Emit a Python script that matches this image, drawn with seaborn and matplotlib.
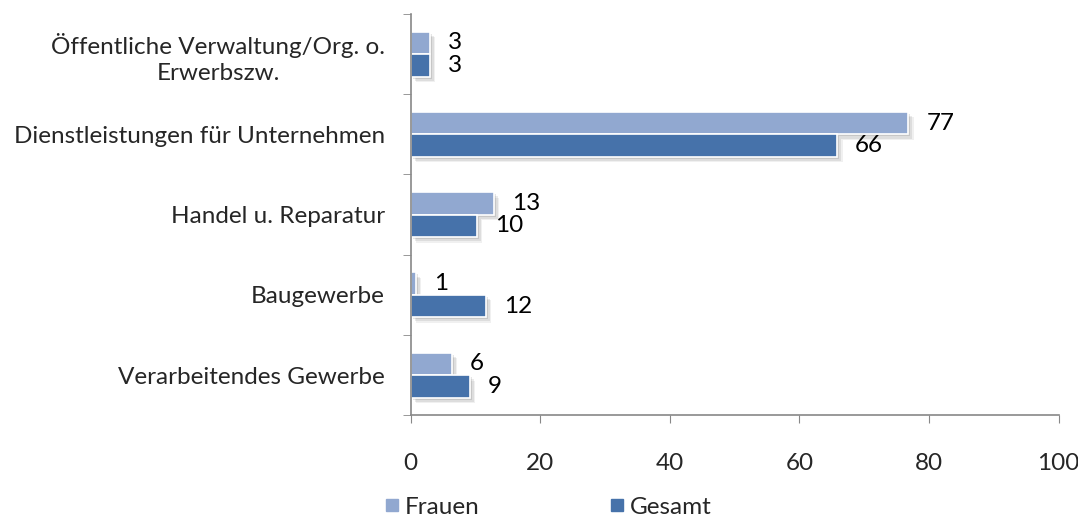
import numpy as np
import pandas as pd
import matplotlib
matplotlib.use("Agg")
import matplotlib.pyplot as plt
import matplotlib.patheffects as pe
from matplotlib.lines import Line2D
import seaborn as sns

# ── Data ──────────────────────────────────────────────────────────────────────
categories = [
    "Öffentliche Verwaltung/Org. o.\nErwerbszw.",
    "Dienstleistungen für Unternehmen",
    "Handel u. Reparatur",
    "Baugewerbe",
    "Verarbeitendes Gewerbe",
]
frauen = [2.9, 76.8, 12.8, 0.8, 6.3]
gesamt = [2.9, 65.8, 10.2, 11.6, 9.1]
series_names = ["Frauen", "Gesamt"]
x_ticks = [0, 20, 40, 60, 80, 100]

COLORS = {"Frauen": "#91A8D0", "Gesamt": "#4672AA"}
FONT = ["Lato", "DejaVu Sans"]
FS = 17.5

df = pd.DataFrame({
    "Branche": categories * 2,
    "Wert": frauen + gesamt,
    "Gruppe": ["Frauen"] * len(categories) + ["Gesamt"] * len(categories),
})

sns.set_style("white")
plt.rcParams["font.family"] = FONT

fig, ax = plt.subplots(figsize=(10.78, 5.19), dpi=100)
fig.subplots_adjust(left=0.381, right=0.982, top=0.973, bottom=0.2)

sns.barplot(data=df, y="Branche", x="Wert", hue="Gruppe", order=categories,
            hue_order=series_names, palette=COLORS, orient="h", width=0.56,
            edgecolor="white", linewidth=1.2, saturation=1, legend=False, ax=ax)

# soft drop shadow like the office chart
shadow = [pe.SimplePatchShadow(offset=(4, -4), shadow_rgbFace="#000000", alpha=0.06),
          pe.SimplePatchShadow(offset=(3, -3), shadow_rgbFace="#000000", alpha=0.08),
          pe.SimplePatchShadow(offset=(1.5, -1.5), shadow_rgbFace="#000000", alpha=0.1),
          pe.Normal()]
for container in ax.containers:
    for bar in container:
        bar.set_path_effects(shadow)
    ax.bar_label(container, labels=[f"{v:.0f}" for v in container.datavalues],
                 padding=13, fontsize=FS, color="black")

ax.set_xlim(0, 100)
ax.set_ylim(len(categories) - 0.5, -0.5)
ax.set_xticks(x_ticks)
ax.set_xlabel("")
ax.set_ylabel("")
ax.tick_params(axis="x", labelsize=FS, length=6, color="#888888", pad=21, direction="out",
               bottom=True)
ax.tick_params(axis="y", labelsize=FS, length=0, pad=18.5)
ax.set_yticks(np.arange(-0.5, len(categories), 1.0), minor=True)
ax.tick_params(axis="y", which="minor", length=6, color="#888888", left=True, direction="out")
for lbl in ax.get_yticklabels():
    lbl.set_multialignment("center")
    lbl.set_linespacing(1.3)

for side in ["top", "right"]:
    ax.spines[side].set_visible(False)
for side in ["left", "bottom"]:
    ax.spines[side].set_color("#888888")
    ax.spines[side].set_linewidth(1.2)

handles = [Line2D([], [], marker="s", linestyle="none", markersize=8.5,
                  markerfacecolor=COLORS[n], markeredgecolor=COLORS[n]) for n in series_names]
fig.legend(handles, series_names, loc="lower left", bbox_to_anchor=(0.335, -0.04),
           ncol=2, frameon=False, fontsize=FS, handletextpad=0.2, columnspacing=5.3,
           handlelength=0.7)

fig.savefig("out.png", dpi=100)
